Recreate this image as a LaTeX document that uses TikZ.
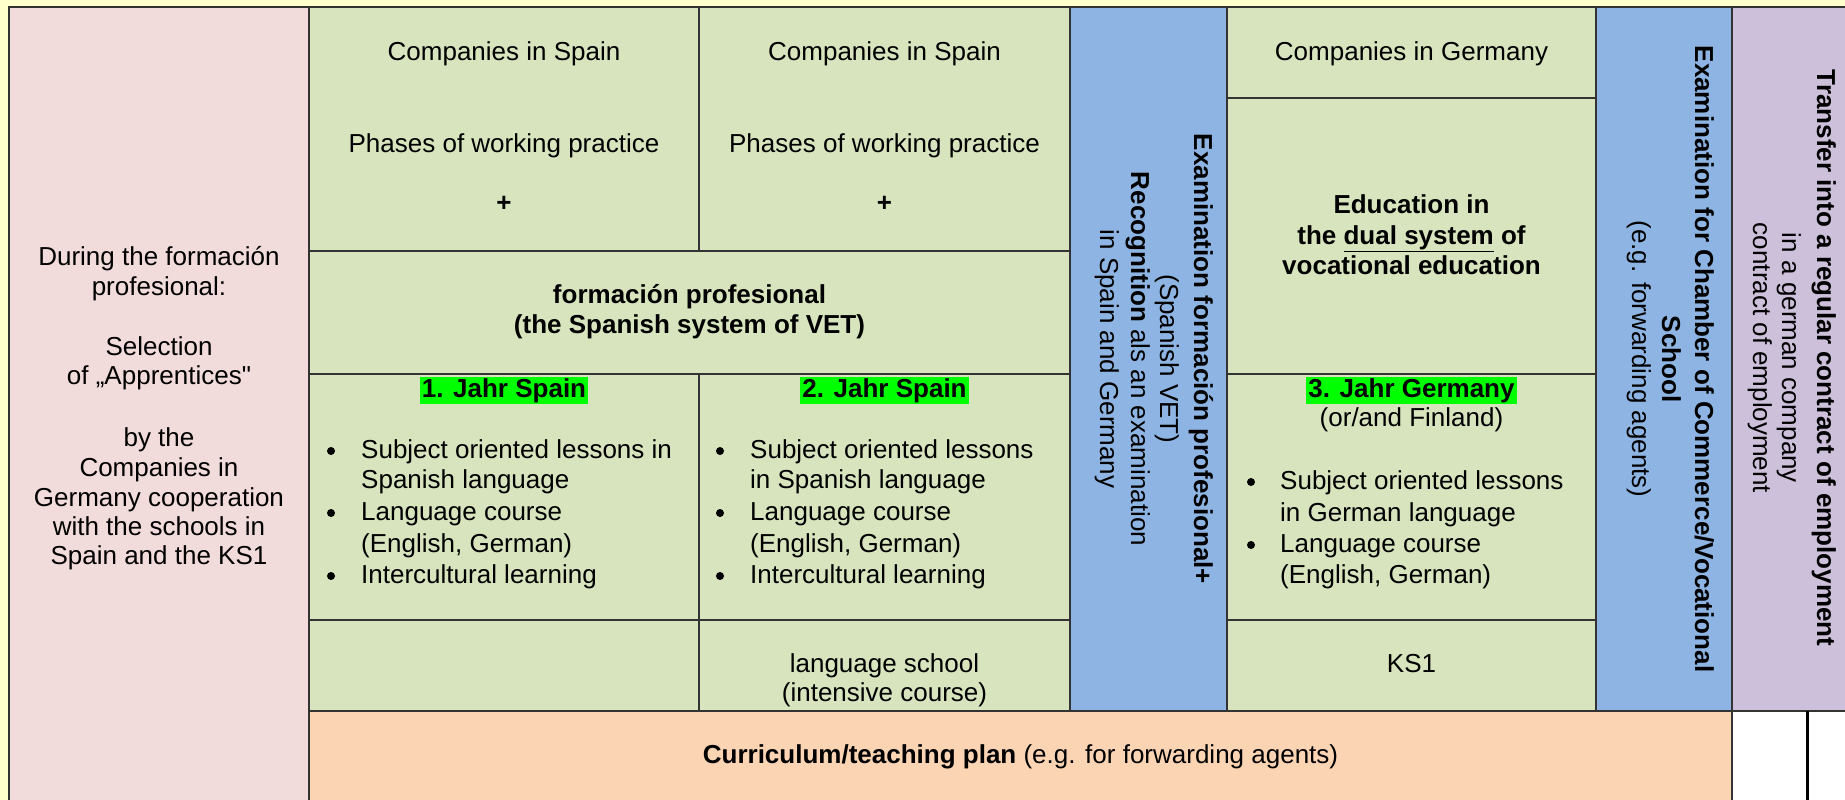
\documentclass[tikz,border=0pt]{standalone}
\usepackage{fontspec}
\setmainfont{Liberation Sans}[Ligatures=TeXOff]
\definecolor{bgyellow}{HTML}{FFFFCC}
\definecolor{pinkc}{HTML}{F2DCDB}
\definecolor{greenc}{HTML}{D7E4BD}
\definecolor{bluec}{HTML}{8DB4E2}
\definecolor{purplec}{HTML}{CCC0DA}
\definecolor{orangec}{HTML}{FBD4B4}
\definecolor{hlgreen}{HTML}{00FF00}
\definecolor{linec}{HTML}{333333}
\begin{document}
\begin{tikzpicture}[x=1pt,y=-1pt,
  cell/.style={draw=linec, line width=2pt},
  txt/.style={font=\fontsize{26}{30}\selectfont, inner sep=0pt, anchor=base, text=black},
  btxt/.style={txt, font=\fontsize{26}{30}\selectfont\bfseries},
  ltxt/.style={txt, anchor=base west},
  vtxt/.style={txt, rotate=-90},
  vbtxt/.style={btxt, rotate=-90},
  dot/.style={circle, fill=black, inner sep=0pt, minimum size=8pt},
  hl/.style={btxt, fill=hlgreen, inner xsep=2pt, inner ysep=1.5pt}]
\useasboundingbox (0,0) rectangle (1845,800);
\clip (0,0) rectangle (1845,800);
\fill[bgyellow] (0,0) rectangle (1845,800);
% cells
\filldraw[cell, fill=pinkc] (9,7) rectangle (309,820);
\filldraw[cell, fill=greenc] (309,7) rectangle (699,251);
\filldraw[cell, fill=greenc] (699,7) rectangle (1070,251);
\filldraw[cell, fill=greenc] (309,251) rectangle (1070,374);
\filldraw[cell, fill=greenc] (309,374) rectangle (699,620);
\filldraw[cell, fill=greenc] (699,374) rectangle (1070,620);
\filldraw[cell, fill=greenc] (309,620) rectangle (699,711);
\filldraw[cell, fill=greenc] (699,620) rectangle (1070,711);
\filldraw[cell, fill=bluec] (1070,7) rectangle (1227,711);
\filldraw[cell, fill=greenc] (1227,7) rectangle (1596,98);
\filldraw[cell, fill=greenc] (1227,98) rectangle (1596,374);
\filldraw[cell, fill=greenc] (1227,374) rectangle (1596,620);
\filldraw[cell, fill=greenc] (1227,620) rectangle (1596,711);
\filldraw[cell, fill=bluec] (1596,7) rectangle (1732,711);
\filldraw[cell, fill=purplec] (1732,7) rectangle (1860,711);
\filldraw[cell, fill=orangec] (309,711) rectangle (1732,820);
\filldraw[cell, fill=white] (1732,711) rectangle (1860,820);
\draw[black, line width=3pt] (1807,711) -- (1807,800);
% pink column
\node[txt] (p1) at (159,265) {During the formación};
\node[txt] (p2) at (159,295) {profesional:};
\node[txt] (p3) at (159,355) {Selection};
\node[txt] (p4) at (159,384) {of „Apprentices"};
\node[txt] (p5) at (159,446) {by the};
\node[txt] (p6) at (159,476) {Companies in};
\node[txt] (p7) at (159,506) {Germany cooperation};
\node[txt] (p8) at (159,535) {with the schools in};
\node[txt] (p9) at (159,564) {Spain and the KS1};
% Spain columns top
\node[txt] (cs1) at (504,60) {Companies in Spain};
\node[txt] (ph1) at (504,152) {Phases of working practice};
\node[btxt] (pl1) at (504,211) {+};
\node[txt] (cs2) at (884.5,60) {Companies in Spain};
\node[txt] (ph2) at (884.5,152) {Phases of working practice};
\node[btxt] (pl2) at (884.5,211) {+};
\node[btxt] (fp1) at (689.5,303) {formación profesional};
\node[btxt] (fp2) at (689.5,333) {(the Spanish system of VET)};
% year 1
\node[hl] (j1) at (504,397) {1. Jahr Spain};
\node[dot] (b11) at (331,451) {};
\node[ltxt] (t11) at (361,458) {Subject oriented lessons in};
\node[ltxt] (t12) at (361,488) {Spanish language};
\node[dot] (b12) at (331,513) {};
\node[ltxt] (t13) at (361,520) {Language course};
\node[ltxt] (t14) at (361,552) {(English, German)};
\node[dot] (b13) at (331,576) {};
\node[ltxt] (t15) at (361,583) {Intercultural learning};
% year 2
\node[hl] (j2) at (884.5,397) {2. Jahr Spain};
\node[dot] (b21) at (720,451) {};
\node[ltxt] (t21) at (750,458) {Subject oriented lessons};
\node[ltxt] (t22) at (750,488) {in Spanish language};
\node[dot] (b22) at (720,513) {};
\node[ltxt] (t23) at (750,520) {Language course};
\node[ltxt] (t24) at (750,552) {(English, German)};
\node[dot] (b23) at (720,576) {};
\node[ltxt] (t25) at (750,583) {Intercultural learning};
\node[txt] (ls1) at (884.5,672) {language school};
\node[txt] (ls2) at (884.5,701) {(intensive course)};
% blue 1
\node[vbtxt] (e1) at (1194,359) {Examination formación profesional+};
\node[vtxt] (e2) at (1160,359) {(Spanish VET)};
\node[vtxt] (e3) at (1131,359) {\textbf{Recognition} als an examination};
\node[vtxt] (e4) at (1100,359) {in Spain and Germany};
% Germany column
\node[txt] (cg) at (1411.5,60) {Companies in Germany};
\node[btxt] (d1) at (1411.5,213) {Education in};
\node[btxt] (d2) at (1411.5,244) {the \underline{dual system} of};
\node[btxt] (d3) at (1411.5,274) {vocational education};
\node[hl] (j3) at (1411.5,397) {3. Jahr Germany};
\node[txt] (fi) at (1411.5,426) {(or/and Finland)};
\node[dot] (b31) at (1251,482) {};
\node[ltxt] (t31) at (1280,489) {Subject oriented lessons};
\node[ltxt] (t32) at (1280,521) {in German language};
\node[dot] (b32) at (1251,545) {};
\node[ltxt] (t33) at (1280,552) {Language course};
\node[ltxt] (t34) at (1280,583) {(English, German)};
\node[txt] (ks) at (1411.5,672) {KS1};
% blue 2
\node[vbtxt] (x1) at (1695,359) {Examination for Chamber of Commerce/Vocational};
\node[vbtxt] (x2) at (1662,359) {School};
\node[vtxt] (x3) at (1632,359) {(e.g. forwarding agents)};
% purple
\node[vbtxt] (r1) at (1817,358) {Transfer into a regular contract of employment};
\node[vtxt] (r2) at (1782,358) {in a german company};
\node[vtxt] (r3) at (1753,358) {contract of employment};
% curriculum
\node[txt] (cu) at (1020.5,763) {\textbf{Curriculum/teaching plan} (e.g. for forwarding agents)};
\end{tikzpicture}
\end{document}
